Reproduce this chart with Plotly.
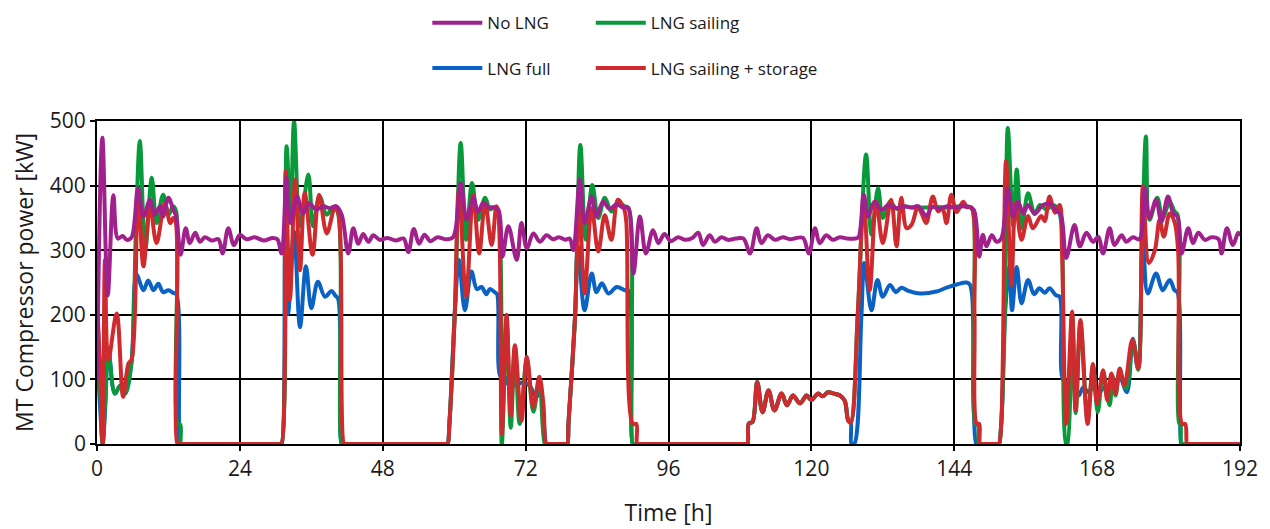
import plotly.graph_objects as go

# (time [h], power [kW])
no_lng = [(0,100),(0.9,474),(1.8,230),(2.75,385),(3.5,318),(4.3,322),(5.0,316),(5.8,320),(6.9,396),(7.8,352),(8.9,378),(9.7,355),(10.6,368),(11.1,352),(12.0,381),(12.8,363),(13.3,352),(14.05,293),(14.9,334),(15.6,311),(16.5,327),(17.3,313),(18.1,320),(19.3,315),(20.4,317),(21.1,295),(22.05,334),(23.0,308),(24.0,324),(25.1,317),(26.5,320),(28.0,315),(29.5,319),(30.3,317),(31.0,295),(31.85,412),(32.5,342),(33.6,383),(34.6,357),(35.6,373),(36.8,363),(38.0,368),(39.1,365),(40.2,368),(41.1,355),(42.2,295),(43.05,334),(43.9,310),(44.7,325),(45.6,313),(46.4,323),(47.5,316),(48.8,319),(50.2,315),(51.5,318),(52.3,297),(53.2,333),(54.1,310),(55.0,324),(56.0,314),(57.2,320),(58.5,317),(59.8,320),(61.1,404),(62.1,347),(63.2,381),(64.0,359),(64.9,374),(65.7,367),(66.5,366),(67.4,363),(68.1,290),(69.1,337),(70.5,285),(71.3,342),(72.2,303),(73.3,326),(74.4,313),(75.5,323),(76.6,317),(77.6,320),(78.7,316),(79.4,318),(80.0,300),(81.1,409),(81.9,342),(83.1,383),(83.9,352),(85.0,375),(86.1,364),(87.3,371),(88.4,366),(89.2,366),(90.1,264),(91.2,352),(92.2,295),(93.4,331),(94.3,311),(95.3,325),(96.4,314),(97.6,320),(98.8,316),(100.0,319),(101.0,327),(101.8,308),(102.9,323),(103.8,313),(104.9,320),(106.0,316),(107.3,318),(108.6,318),(109.7,295),(110.8,334),(111.6,311),(112.7,323),(113.9,316),(115.2,320),(116.4,317),(117.5,319),(118.6,319),(119.6,295),(120.6,334),(121.4,311),(122.5,323),(123.6,316),(124.8,320),(126.0,318),(127.3,318),(127.9,320),(128.8,386),(129.5,352),(130.6,375),(131.8,362),(132.9,370),(134.3,365),(135.5,368),(136.8,366),(138.0,368),(139.3,353),(140.3,367),(141.5,364),(142.8,368),(144.0,366),(145.2,368),(146.5,367),(147.3,362),(148.2,290),(148.8,324),(149.4,306),(150.3,323),(151.1,313),(151.9,318),(153.0,396),(153.9,352),(154.7,375),(155.6,357),(156.4,370),(157.5,357),(158.9,370),(160.0,372),(161.1,362),(161.9,355),(162.8,288),(164.2,339),(165.1,306),(166.2,327),(167.3,313),(168.2,321),(169.0,295),(170.1,334),(170.9,308),(172.1,323),(172.9,313),(174.0,320),(175.1,317),(176.0,396),(176.8,350),(177.9,378),(178.8,344),(179.9,383),(180.8,357),(181.5,352),(182.2,295),(183.3,334),(184.1,311),(185.0,327),(186.1,316),(187.2,320),(188.4,317),(188.9,295),(189.8,334),(190.8,308),(191.7,327),(192.0,322)]

lng_full = [(0,150),(0.5,60),(0.95,0),(1.4,60),(1.9,148),(3.0,78),(3.9,90),(4.7,78),(5.8,127),(6.65,262),(7.8,238),(8.6,253),(9.5,238),(10.3,248),(11.1,235),(12.0,238),(12.8,234),(13.3,232),(13.8,20),(14.0,0),(14.2,0),(30.8,0),(31.0,0),(31.6,300),(32.1,202),(33.1,329),(34.1,181),(35.1,275),(36.0,210),(37.1,251),(38.3,228),(39.4,237),(40.0,230),(40.5,225),(41.1,0),(41.3,0),(58.7,0),(58.9,0),(59.2,32),(60.1,202),(60.8,285),(61.8,207),(62.9,267),(63.8,240),(64.6,243),(65.4,232),(66.0,240),(66.8,235),(67.2,232),(67.8,104),(68.5,104),(69.4,88),(70.5,92),(71.6,95),(72.7,90),(73.8,73),(74.5,78),(75.0,40),(75.5,0),(75.7,0),(78.8,0),(79.0,0),(79.2,32),(80.3,197),(80.8,306),(81.9,207),(83.1,264),(83.9,235),(84.8,249),(85.9,233),(87.3,243),(88.7,238),(89.3,237),(90.0,0),(90.2,0),(109.1,0),(109.3,0),(109.5,32),(110.1,34),(110.9,96),(111.8,49),(112.8,83),(113.8,52),(115.0,78),(115.9,60),(116.9,75),(118.1,63),(119.2,75),(120.0,68),(121.1,78),(121.9,74),(122.8,80),(123.8,78),(124.8,75),(125.6,67),(126.2,36),(126.6,33),(126.75,0),(127.2,0),(128.4,197),(128.9,280),(130.1,207),(131.1,254),(132.0,228),(133.2,246),(134.2,235),(135.1,242),(136.3,237),(138.2,233),(141.0,236),(142.7,242),(144.4,247),(146.1,250),(146.6,247),(147.0,230),(147.7,0),(147.9,0),(151.3,0),(151.5,0),(151.9,32),(152.5,197),(153.3,275),(153.7,207),(154.5,274),(155.3,218),(156.4,254),(157.4,232),(158.3,241),(159.2,234),(160.0,241),(161.1,230),(161.7,228),(162.3,99),(163.2,95),(164.0,104),(164.9,75),(165.7,88),(166.5,80),(167.3,88),(168.1,77),(169.3,88),(170.1,77),(171.2,98),(171.9,101),(173.0,80),(174.0,163),(174.9,117),(175.7,310),(176.5,233),(177.9,264),(179.0,238),(180.2,254),(181.0,238),(181.5,235),(182.2,0),(182.4,0),(192,0)]

lng_sailing = [(0,220),(0.5,100),(0.95,0),(1.4,70),(1.9,148),(3.0,78),(3.9,90),(4.7,78),(5.8,127),(6.5,320),(7.2,469),(8.1,300),(9.2,412),(10.0,342),(11.1,386),(12.0,355),(12.8,368),(13.3,360),(13.6,30),(14.0,30),(14.1,0),(14.3,0),(30.8,0),(31.0,0),(31.85,461),(32.5,347),(33.1,500),(34.1,337),(35.5,417),(36.3,337),(37.4,383),(38.6,355),(39.7,367),(40.4,360),(41.1,0),(41.3,0),(58.7,0),(58.9,0),(59.2,32),(60.1,202),(61.1,466),(62.0,316),(63.0,404),(64.0,347),(65.2,381),(66.0,363),(66.8,367),(67.3,362),(68.0,0),(68.8,190),(69.5,25),(70.2,150),(71.0,31),(72.2,130),(73.3,50),(74.3,99),(75.2,0),(75.4,0),(78.8,0),(79.0,0),(79.2,32),(80.3,197),(81.2,463),(82.1,316),(83.2,401),(84.2,350),(85.3,381),(86.4,360),(87.5,371),(88.7,368),(89.3,365),(90.0,0),(90.2,0),(109.1,0),(109.3,0),(109.5,32),(110.1,34),(110.9,96),(111.8,49),(112.8,83),(113.8,52),(115.0,78),(115.9,60),(116.9,75),(118.1,63),(119.2,75),(120.0,68),(121.1,78),(121.9,74),(122.8,80),(123.8,78),(124.8,75),(125.6,67),(126.2,36),(126.6,33),(127.8,202),(129.2,448),(130.1,324),(131.2,396),(132.0,350),(133.2,375),(134.3,364),(135.5,368),(137.0,366),(139.0,366),(141.0,367),(143.0,366),(145.0,368),(146.8,366),(147.3,350),(147.6,30),(148.0,30),(148.1,0),(148.3,0),(151.3,0),(151.5,0),(151.9,32),(152.5,197),(153.0,489),(153.9,337),(154.5,425),(155.3,334),(156.4,388),(157.5,356),(158.4,370),(159.5,363),(160.6,370),(161.5,362),(162.0,340),(162.8,0),(163.0,0),(163.8,200),(164.4,48),(165.2,185),(166.4,40),(167.3,120),(168.1,49),(169.0,110),(170.1,60),(170.6,105),(171.1,75),(171.8,110),(172.9,86),(174.0,160),(174.9,115),(175.5,290),(176.2,476),(176.8,347),(178.1,381),(179.0,350),(180.2,375),(181.0,360),(181.5,355),(181.8,32),(182.0,32),(182.1,0),(182.3,0),(192,0)]

lng_sailing_storage = [(0,225),(0.5,120),(0.95,0),(1.34,285),(1.9,130),(3.3,202),(4.4,73),(5.3,125),(5.8,130),(6.9,394),(7.8,275),(8.9,368),(10.0,311),(11.4,373),(12.3,342),(12.8,350),(13.2,345),(13.5,0),(13.7,0),(30.8,0),(31.0,0),(31.7,422),(32.4,223),(33.3,409),(34.1,269),(34.9,389),(36.2,293),(37.3,386),(38.6,326),(40.0,368),(40.6,355),(41.5,0),(41.7,0),(58.7,0),(58.9,0),(59.2,32),(60.1,202),(60.8,395),(62.0,228),(63.2,386),(64.2,295),(65.2,373),(66.3,308),(67.1,368),(67.4,360),(68.0,16),(68.8,200),(69.5,44),(70.2,153),(71.3,36),(72.2,135),(73.3,57),(74.3,104),(75.0,60),(75.4,0),(75.6,0),(78.8,0),(79.0,0),(79.2,32),(80.3,197),(81.0,378),(81.9,233),(83.1,365),(84.2,298),(85.3,354),(86.4,316),(87.5,378),(88.5,365),(88.9,345),(90.0,31),(90.6,31),(90.7,0),(90.9,0),(109.1,0),(109.3,0),(109.5,32),(110.1,34),(110.9,96),(111.8,49),(112.8,83),(113.8,52),(115.0,78),(115.9,60),(116.9,75),(118.1,63),(119.2,75),(120.0,68),(121.1,78),(121.9,74),(122.8,80),(123.8,78),(124.8,75),(125.6,67),(126.2,36),(126.6,33),(127.8,202),(128.8,378),(129.8,238),(130.9,375),(132.0,311),(133.4,378),(134.3,306),(135.1,381),(136.0,334),(136.8,339),(137.9,367),(138.6,355),(139.3,342),(140.4,383),(141.3,360),(142.0,365),(142.7,342),(143.5,386),(144.4,359),(145.5,375),(146.1,367),(146.9,366),(147.4,200),(147.8,31),(148.2,31),(148.3,0),(148.5,0),(151.3,0),(151.5,0),(151.9,32),(152.7,438),(153.6,246),(154.3,373),(155.3,316),(156.4,353),(157.2,334),(158.6,353),(159.2,345),(160.0,383),(160.9,358),(161.7,370),(162.1,300),(162.8,31),(163.8,205),(164.4,52),(165.2,192),(166.4,31),(167.3,124),(168.0,62),(169.0,114),(169.7,68),(170.4,109),(171.1,78),(171.8,117),(172.6,91),(173.9,161),(174.9,117),(175.7,399),(176.7,280),(177.7,300),(178.5,347),(179.2,321),(180.2,357),(181.0,344),(181.6,300),(182.3,31),(182.8,31),(183.1,0),(183.3,0),(192,0)]

x_ticks = [0, 24, 48, 72, 96, 120, 144, 168, 192]
y_ticks = [0, 100, 200, 300, 400, 500]

series = [
    # name, data, color, legend, rank
    ("LNG full", lng_full, "#0a62c4", "legend", 2),
    ("LNG sailing", lng_sailing, "#089a3a", "legend2", 1),
    ("LNG sailing + storage", lng_sailing_storage, "#cf2a2e", "legend2", 2),
    ("No LNG", no_lng, "#a0208c", "legend", 1),
]

fig = go.Figure()
for name, data, color, leg, rank in series:
    t = [p[0] for p in data]
    v = [p[1] for p in data]
    fig.add_trace(go.Scatter(
        x=t, y=v, mode="lines", name=name,
        line=dict(color=color, width=4, shape="spline", smoothing=1.0),
        legend=leg, legendrank=rank, legendgroup=name,
    ))

axis_common = dict(
    showgrid=True, gridcolor="black", gridwidth=1.8,
    showline=True, linecolor="black", linewidth=1.8, mirror=True,
    ticks="outside", ticklen=5, tickcolor="black", tickwidth=1.5,
    zeroline=False, tickfont=dict(size=21), automargin=False,
)

legend_common = dict(xanchor="left", yanchor="top", yref="container", tracegroupgap=20,
                     itemwidth=50, font=dict(size=17), bgcolor="rgba(0,0,0,0)")

fig.update_layout(
    width=1270, height=529,
    margin=dict(l=97, r=30, t=121, b=85),
    paper_bgcolor="white", plot_bgcolor="white",
    font=dict(family="Open Sans, sans-serif", size=18, color="#1a1a1a"),
    legend=dict(x=0.289, y=0.99, **legend_common),
    legend2=dict(x=0.432, y=0.99, **legend_common),
    xaxis=dict(range=[0, 192], tickvals=x_ticks,
               title=dict(text="Time [h]", font=dict(size=23), standoff=24),
               **axis_common),
    yaxis=dict(range=[0, 500], tickvals=y_ticks,
               title=dict(text="MT Compressor power [kW]", font=dict(size=23), standoff=10),
               **axis_common),
)

fig.write_html("out.html")
